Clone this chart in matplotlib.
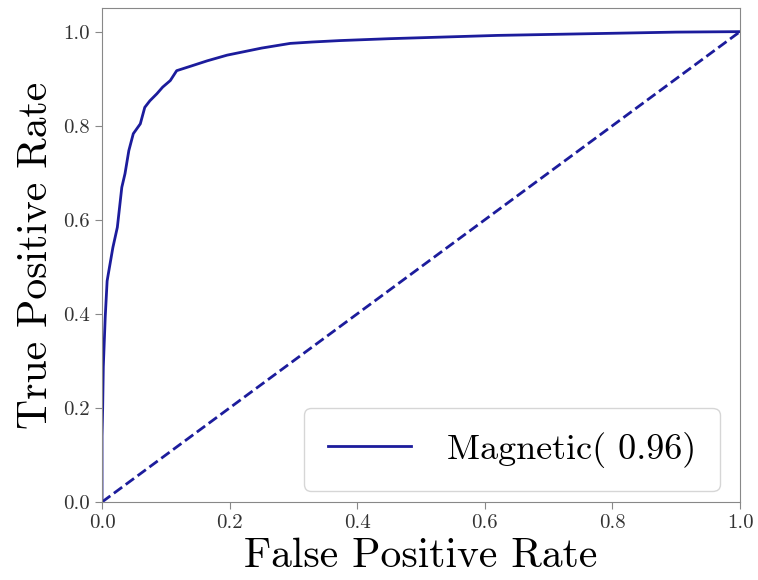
import matplotlib
matplotlib.use("Agg")
import matplotlib.pyplot as plt

# ROC curve points
fpr = [0.0, 0.0, 0.001, 0.002, 0.005, 0.008, 0.010, 0.017, 0.024, 0.031, 0.036,
       0.042, 0.049, 0.060, 0.067, 0.075, 0.086, 0.095, 0.107, 0.117, 0.14,
       0.165, 0.196, 0.25, 0.295, 0.33, 0.373, 0.45, 0.62, 0.78, 0.9, 1.0]
tpr = [0.0, 0.14, 0.20, 0.287, 0.393, 0.47, 0.486, 0.541, 0.584, 0.669, 0.698,
       0.747, 0.783, 0.804, 0.839, 0.853, 0.868, 0.882, 0.896, 0.917, 0.927,
       0.938, 0.950, 0.965, 0.975, 0.978, 0.981, 0.985, 0.992, 0.996, 0.999, 1.0]
label = "Magnetic( 0.96)"
line_color = "#1c1c9c"

plt.rcParams['font.family'] = 'cmr10'
plt.rcParams['mathtext.fontset'] = 'cm'
plt.rcParams['axes.formatter.use_mathtext'] = True

fig = plt.figure(figsize=(7.58, 5.8), dpi=100)
ax = fig.add_axes([0.1346, 0.1345, 0.8417, 0.8515])

ax.plot(fpr, tpr, color=line_color, lw=2, label=label)
ax.plot([0, 1], [0, 1], color=line_color, lw=2, linestyle='--')

ax.set_xlim(0, 1.0)
ax.set_ylim(0, 1.05)
ticks = [0, 0.2, 0.4, 0.6, 0.8, 1.0]
tick_labels = ["0.0", "0.2", "0.4", "0.6", "0.8", "1.0"]
ax.set_xticks(ticks)
ax.set_yticks(ticks)
ax.set_xticklabels(tick_labels)
ax.set_yticklabels(tick_labels)
ax.tick_params(labelsize=15, colors="#333333", length=5)
ax.tick_params(axis='both', color="#888888")
for s in ax.spines.values():
    s.set_color("#888888")

ax.set_xlabel("False Positive Rate", fontsize=30, labelpad=4)
ax.set_ylabel("True Positive Rate", fontsize=30, labelpad=6)

leg = ax.legend(loc='lower right', fontsize=26, handlelength=2.3,
                borderpad=0.65, handletextpad=1.0, borderaxespad=0.3,
                bbox_to_anchor=(0.985, 0.0))

plt.savefig("out.png", dpi=100)
